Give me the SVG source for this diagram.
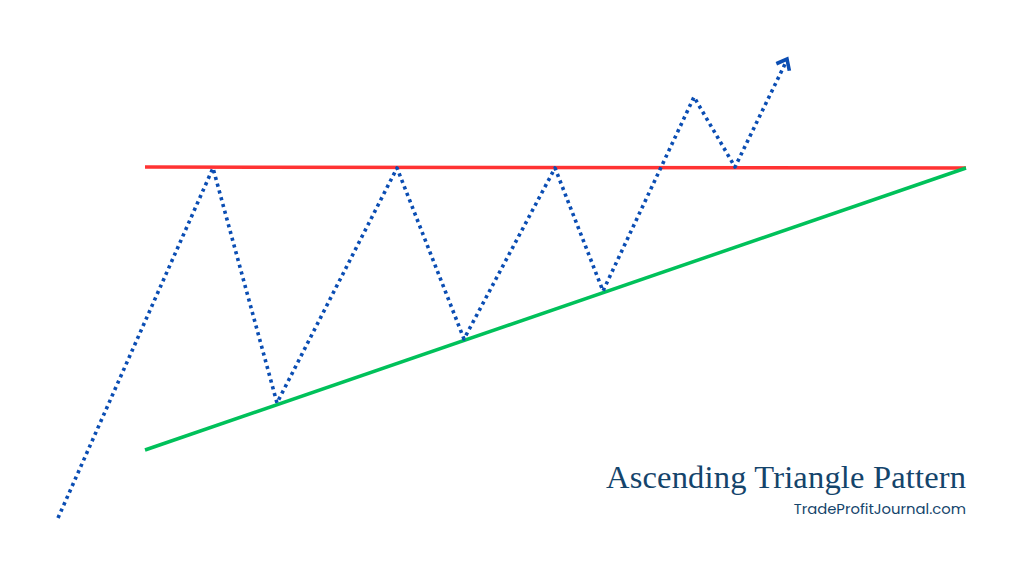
<svg xmlns="http://www.w3.org/2000/svg" width="1024" height="576" viewBox="0 0 1024 576">
<defs>
<style>
.price{fill:none;stroke:#0a4db3;stroke-width:3.6;stroke-dasharray:3.2 3.8;stroke-linejoin:round}
.title{font-family:"Liberation Serif","DejaVu Serif",serif;font-size:32.5px;fill:#14446b}
.sub{font-family:"Poppins","Open Sans","Liberation Sans",sans-serif;font-size:14.8px;fill:#14446b}
</style>
</defs>
<rect width="1024" height="576" fill="#ffffff"/>
<g id="connectors">
<line id="resistance" x1="145" y1="167" x2="966" y2="168" stroke="#ff3333" stroke-width="3.5"/>
<line id="support" x1="145" y1="450" x2="966" y2="168" stroke="#00c15a" stroke-width="3.5"/>
<polyline id="price-path" class="price" points="58,518 213,168 277,403 397,168 464,339 555,168 603,291 694,97 735,167 786,62"/>
<polyline id="arrowhead" points="778,63 787,59 789,69" fill="none" stroke="#0a4db3" stroke-width="3.6" stroke-linejoin="miter" stroke-linecap="square"/>
</g>
<g id="title">
<text class="title" x="966" y="488" text-anchor="end" textLength="360" lengthAdjust="spacing">Ascending Triangle Pattern</text>
</g>
<g id="subtitle">
<text class="sub" x="966" y="514" text-anchor="end">TradeProfitJournal.com</text>
</g>
</svg>
